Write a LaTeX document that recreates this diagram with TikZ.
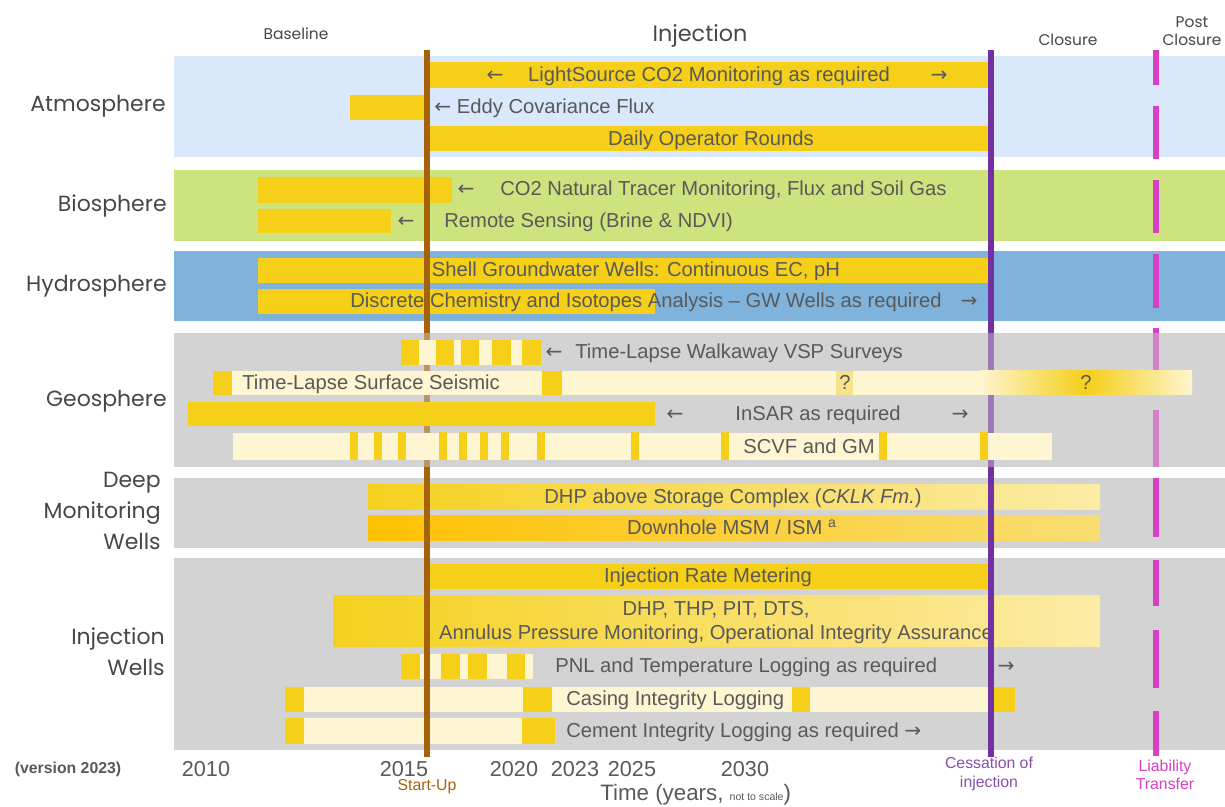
\documentclass[tikz,border=0pt]{standalone}
\usepackage{fontspec}
\setmainfont{Liberation Sans}
\newfontfamily\catfont{Poppins}
\newfontfamily\arrowfont{DejaVu Sans}
\newcommand{\la}{{\arrowfont ←}}
\newcommand{\ra}{{\arrowfont →}}
\definecolor{atmoBlue}{HTML}{DAE8FC}
\definecolor{bioGreen}{HTML}{CDE47E}
\definecolor{hydroBlue}{HTML}{7FB3DC}
\definecolor{geoGray}{HTML}{D3D3D3}
\definecolor{barY}{HTML}{F5CF18}
\definecolor{barL}{HTML}{FEF5D2}
\definecolor{barQ}{HTML}{F8E38C}
\definecolor{dhpL}{HTML}{F5D11F}
\definecolor{dhpR}{HTML}{FCEBA6}
\definecolor{msmL}{HTML}{FFC103}
\definecolor{msmR}{HTML}{F8DD72}
\definecolor{startBrown}{HTML}{A66209}
\definecolor{stopPurple}{HTML}{7231A1}
\definecolor{liabPink}{HTML}{D63FC6}
\definecolor{txtGray}{HTML}{595959}
\definecolor{catGray}{HTML}{474747}
\begin{document}
\begin{tikzpicture}[x=0.02cm,y=-0.02cm,
  lbl/.style={text=txtGray,font=\fontsize{11.5}{13}\selectfont,inner sep=0pt,text height=8.3pt,text depth=0.5pt},
  cat/.style={text=catGray,font=\catfont\fontsize{12.5}{17.6}\selectfont,inner sep=0pt,anchor=east,align=right},
  phase/.style={text=catGray,font=\catfont\fontsize{8.8}{10.5}\selectfont,inner sep=0pt,align=center},
  year/.style={text=txtGray,font=\fontsize{12.3}{14}\selectfont,inner sep=0pt},
  milestone/.style={font=\fontsize{9}{10.5}\selectfont,inner sep=0pt,align=center}]
\useasboundingbox (0,0) rectangle (1225,807);
% bands
\fill[atmoBlue] (174,56) rectangle (1225,157);
\fill[bioGreen] (174,170) rectangle (1225,241);
\fill[hydroBlue] (174,251) rectangle (1225,321);
\fill[geoGray] (174,333) rectangle (1225,467);
\fill[geoGray] (174,478) rectangle (1225,548);
\fill[geoGray] (174,558) rectangle (1225,750);
% milestone lines, faded pass (seen through the geosphere rows)
\draw[startBrown,opacity=.55,line width=3.8pt] (427,333) -- (427,467);
\draw[stopPurple,opacity=.55,line width=3.4pt] (991,333) -- (991,467);
\foreach \a/\b in {333/374,410/467}
  \draw[liabPink,opacity=.55,line width=3.8pt] (1156,\a) -- (1156,\b);
% atmosphere
\fill[barY] (426,62) rectangle (988,88);
\node[lbl] (lsArrL) at (495,75) {\la};
\node[lbl] (lsTxt) at (709,75) {LightSource CO2 Monitoring as required};
\node[lbl] (lsArrR) at (939,75) {\ra};
\fill[barY] (350,95) rectangle (426,120);
\node[lbl,anchor=west] (eddyTxt) at (434,107) {\la\ Eddy Covariance Flux};
\fill[barY] (426,126) rectangle (988,151);
\node[lbl] (dailyTxt) at (711,139) {Daily Operator Rounds};
% biosphere
\fill[barY] (258,177) rectangle (452,203);
\node[lbl] (tracerArr) at (466,189) {\la};
\node[lbl,anchor=west] (tracerTxt) at (500,189) {CO2 Natural Tracer Monitoring, Flux and Soil Gas};
\fill[barY] (258,209) rectangle (391,233);
\node[lbl] (remoteArr) at (406,221) {\la};
\node[lbl,anchor=west] (remoteTxt) at (444,221) {Remote Sensing (Brine \& NDVI)};
% hydrosphere
\fill[barY] (258,258) rectangle (988,283);
\node[lbl] (shellTxt) at (636,270) {Shell Groundwater Wells: Continuous EC, pH};
\fill[barY] (258,289) rectangle (655,314);
\node[lbl,anchor=west] (discreteTxt) at (350,301) {Discrete Chemistry and Isotopes Analysis – GW Wells as required};
\node[lbl] (discreteArr) at (969,301) {\ra};
% geosphere
\fill[barL] (401,340) rectangle (541,365);
\foreach \a/\b in {401/419,436/454,461/479,492/511,522/541}
  \fill[barY] (\a,340) rectangle (\b,365);
\node[lbl] (vspArr) at (554,352) {\la};
\node[lbl,anchor=west] (vspTxt) at (575,352) {Time-Lapse Walkaway VSP Surveys};
\fill[barL] (213,371) rectangle (980,395);
\shade[left color=barL,right color=barL,middle color=barY] (980,371) rectangle (1192,395);
\fill[barY] (213,371) rectangle (232,395);
\fill[barY] (542,371) rectangle (562,395);
\fill[barQ] (836,371) rectangle (853,395);
\node[lbl,anchor=west] (seisTxt) at (242,383) {Time-Lapse Surface Seismic};
\node[lbl] (seisQa) at (845,383) {?};
\node[lbl] (seisQb) at (1086,383) {?};
\fill[barY] (188,402) rectangle (655,426);
\node[lbl] (insarArrL) at (675,414) {\la};
\node[lbl] (insarTxt) at (818,414) {InSAR as required};
\node[lbl] (insarArrR) at (960,414) {\ra};
\fill[barL] (233,433) rectangle (1052,460);
\foreach \a in {350,374,398,439,459,480,501,537,631,721,879,980}
  \fill[barY] (\a,432) rectangle ++(7.5,28);
\node[lbl] (scvfTxt) at (809,447) {SCVF and GM};
% deep monitoring wells
\shade[left color=dhpL,right color=dhpR] (368,485) rectangle (1100,510);
\node[lbl] (dhpTxt) at (733,497) {DHP above Storage Complex (\textit{CKLK Fm.})};
\shade[left color=msmL,right color=msmR] (368,516) rectangle (1100,541);
\node[lbl] (msmTxt) at (732,528) {Downhole MSM / ISM \textsuperscript{a}};
% injection wells
\fill[barY] (426,564) rectangle (988,589);
\node[lbl] (rateTxt) at (708,576) {Injection Rate Metering};
\shade[left color=dhpL,right color=dhpR] (333,596) rectangle (1100,647);
\node[lbl] (thpTxt) at (716,609) {DHP, THP, PIT, DTS,};
\node[lbl] (annTxt) at (716,633) {Annulus Pressure Monitoring, Operational Integrity Assurance};
\fill[barL] (401,654) rectangle (533,679);
\foreach \a/\b in {401/420,441/460,468/487,507/525}
  \fill[barY] (\a,654) rectangle (\b,679);
\node[lbl,anchor=west] (pnlTxt) at (555,666) {PNL and Temperature Logging as required};
\node[lbl] (pnlArr) at (1006,666) {\ra};
\fill[barL] (285,687) rectangle (988,712);
\foreach \a/\b in {285/304,523/552,792/810,988/1015}
  \fill[barY] (\a,687) rectangle (\b,712);
\node[lbl,anchor=west] (casingTxt) at (566,699) {Casing Integrity Logging};
\fill[barL] (285,718) rectangle (522,744);
\fill[barY] (285,718) rectangle (304,744);
\fill[barY] (522,718) rectangle (555,744);
\node[lbl,anchor=west] (cementTxt) at (566,731) {Cement Integrity Logging as required \ra};
% milestone lines, full pass
\foreach \a/\b in {50/333,467/757}{
  \draw[startBrown,line width=3.8pt] (427,\a) -- (427,\b);
  \draw[stopPurple,line width=3.4pt] (991,\a) -- (991,\b);
}
\foreach \a/\b in {50/85,106/159,180/233,254/308,328/333,478/537,560/606,630/688,711/756}
  \draw[liabPink,line width=3.8pt] (1156,\a) -- (1156,\b);
% row labels
\node[cat] (atmo) at (166,106) {Atmosphere};
\node[cat] (bio) at (167,206) {Biosphere};
\node[cat] (hydro) at (167,286) {Hydrosphere};
\node[cat] (geo) at (167,401) {Geosphere};
\node[cat] (deep) at (161,511) {Deep\\Monitoring\\Wells};
\node[cat] (inj) at (165,652) {Injection\\Wells};
% phase labels
\node[phase] (baseline) at (296,34) {Baseline};
\node[phase,font=\catfont\fontsize{12.7}{15}\selectfont] (injection) at (700,36) {Injection};
\node[phase] (closure) at (1068,40) {Closure};
\node[phase] (post) at (1192,31) {Post\\Closure};
% time axis
\node[text=txtGray,font=\bfseries\fontsize{9}{11}\selectfont,inner sep=0pt] (version) at (68,769) {(version 2023)};
\foreach \x/\y in {206/2010,404/2015,514/2020,575/2023,632/2025,745/2030}
  \node[year] (y\y) at (\x,769) {\y};
\node[year,anchor=west,font=\fontsize{12.7}{14}\selectfont] (timeTxt) at (600,795) {Time (years, {\fontsize{6}{7}\selectfont not to scale})};
\node[milestone,text=startBrown] (startup) at (427,787) {Start-Up};
\node[milestone,text=stopPurple!85!white] (cessation) at (989,774) {Cessation of\\injection};
\node[milestone,text=liabPink] (liability) at (1165,775) {Liability\\Transfer};
\end{tikzpicture}
\end{document}
